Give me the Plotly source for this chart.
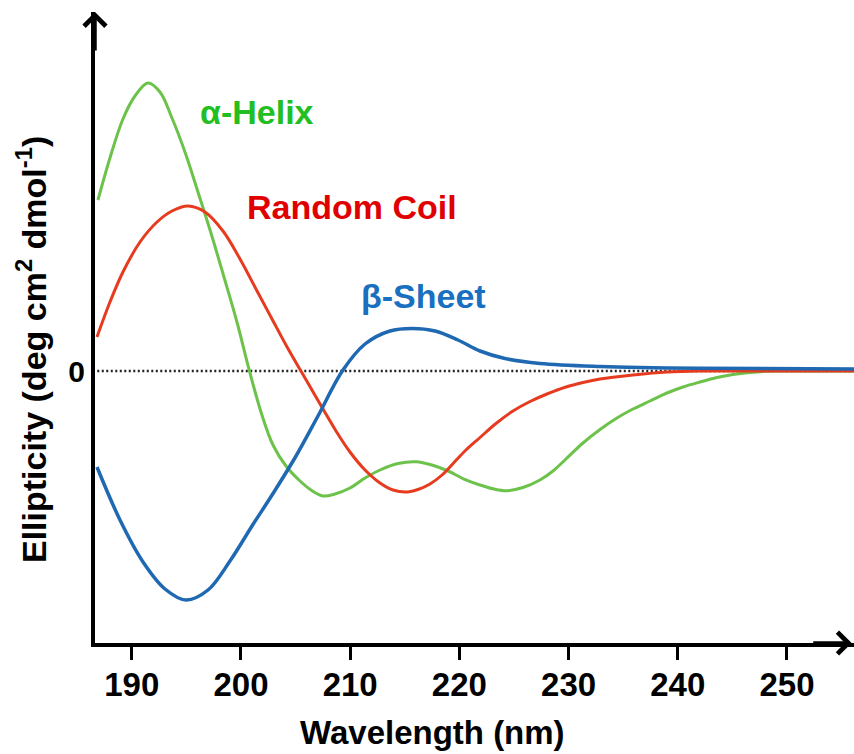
import plotly.graph_objects as go

# ---- data ----
helix_x = [186.90, 188.00, 189.19, 190.29, 191.48, 192.58, 193.68, 194.87, 196.06, 197.25,
           198.44, 199.63, 200.73, 201.83, 202.93, 204.12, 205.31, 206.41, 207.51, 208.61,
           209.98, 211.36, 212.73, 214.38, 216.03, 217.49, 218.96, 220.42, 221.89, 223.17,
           224.36, 225.82, 227.38, 228.57, 229.76, 231.32, 232.88, 234.43, 235.90, 237.45,
           239.01, 240.48, 242.03, 243.59, 245.05, 246.61, 248.17, 249.63, 256.14]
helix_y = [1.71, 2.13, 2.52, 2.75, 2.88, 2.79, 2.53, 2.19, 1.79, 1.38,
           0.94, 0.49, 0.02, -0.41, -0.74, -0.95, -1.09, -1.19, -1.25, -1.23,
           -1.17, -1.07, -0.99, -0.925, -0.907, -0.94, -1.00, -1.08, -1.14, -1.18,
           -1.197, -1.165, -1.09, -1.00, -0.88, -0.72, -0.585, -0.47, -0.38, -0.30,
           -0.22, -0.16, -0.11, -0.065, -0.035, -0.015, -0.003, 0.0, 0.0]

coil_x = [186.81, 188.00, 189.19, 190.75, 192.31, 193.68, 195.15, 196.70, 198.35, 199.91,
          201.47, 202.84, 204.22, 205.49, 206.50, 207.51, 208.70, 209.98, 211.36, 212.73,
          213.92, 215.20, 216.21, 217.31, 218.41, 219.51, 220.60, 221.89, 223.35, 224.91,
          226.47, 228.02, 229.76, 231.32, 232.88, 235.90, 239.01, 242.03, 246.61, 256.14]
coil_y = [0.34, 0.69, 0.99, 1.29, 1.49, 1.60, 1.65, 1.59, 1.40, 1.12,
          0.80, 0.52, 0.24, 0.0, -0.19, -0.38, -0.60, -0.81, -0.99, -1.12,
          -1.19, -1.21, -1.185, -1.13, -1.04, -0.915, -0.79, -0.665, -0.525, -0.40,
          -0.305, -0.23, -0.16, -0.115, -0.08, -0.04, -0.01, 0.0, 0.0, 0.0]

sheet_x = [186.81, 188.92, 191.03, 193.04, 194.96, 196.98, 198.99, 201.01, 203.02, 205.04,
           207.05, 209.34, 211.36, 213.64, 215.66, 217.77, 219.87, 221.89, 224.18, 227.38,
           232.88, 242.03, 256.14]
sheet_y = [-0.96, -1.49, -1.91, -2.18, -2.29, -2.19, -1.90, -1.55, -1.21, -0.85,
           -0.45, 0.01, 0.27, 0.40, 0.425, 0.40, 0.31, 0.20, 0.125, 0.075,
           0.045, 0.027, 0.02]

x_ticks = [190, 200, 210, 220, 230, 240, 250]
y_ticks = [0]
y_ticktext = ["0"]

x_range = [186.63, 256.14]
y_range = [-2.72, 3.59]

FONT = "Liberation Sans, Arial, sans-serif"

fig = go.Figure()
fig.add_trace(go.Scatter(x=helix_x, y=helix_y, mode="lines",
                         line=dict(color="#6CC24A", width=3, shape="spline", smoothing=1.0), name="α-Helix"))
fig.add_trace(go.Scatter(x=coil_x, y=coil_y, mode="lines",
                         line=dict(color="#E63B1F", width=3, shape="spline", smoothing=1.0), name="Random Coil"))
fig.add_trace(go.Scatter(x=sheet_x, y=sheet_y, mode="lines",
                         line=dict(color="#1F68B2", width=3.5, shape="spline", smoothing=1.0), name="β-Sheet"))

# dotted zero line
fig.add_shape(type="line", xref="paper", x0=0.003, x1=1, yref="y", y0=0, y1=0,
              line=dict(color="#222222", width=2.4, dash="2px,2.5px"), layer="below")

# axis arrows
fig.add_annotation(xref="paper", yref="paper", x=0, y=1, ax=0, ay=40, text="",
                   showarrow=True, arrowhead=4, arrowsize=1.2, arrowwidth=3.5, arrowcolor="black")
fig.add_annotation(xref="paper", yref="paper", x=0.997, y=0, ax=-40, ay=0, text="",
                   showarrow=True, arrowhead=4, arrowsize=1.2, arrowwidth=3.5, arrowcolor="black")

# curve labels
fig.add_annotation(x=201.51, y=2.59, text="α-Helix", showarrow=False,
                   font=dict(family=FONT, size=34, color="#22BE22", weight="bold"))
fig.add_annotation(x=210.16, y=1.64, text="Random Coil", showarrow=False,
                   font=dict(family=FONT, size=34, color="#E00000", weight="bold"))
fig.add_annotation(x=216.71, y=0.75, text="β-Sheet", showarrow=False,
                   font=dict(family=FONT, size=34, color="#1A70C0", weight="bold"))

# axis titles
fig.add_annotation(xref="paper", yref="paper", x=0.4453, y=-0.1426, xanchor="center", yanchor="middle",
                   text="Wavelength (nm)", showarrow=False,
                   font=dict(family=FONT, size=33, color="black", weight="bold"))
fig.add_annotation(xref="paper", yref="paper", x=-0.0843, y=0.4643, xanchor="center", yanchor="middle",
                   text="Ellipticity (deg cm<sup>2</sup> dmol<sup>-1</sup>)", textangle=-90,
                   showarrow=False, font=dict(family=FONT, size=34, color="black", weight="bold"))

fig.update_layout(
    width=854, height=754,
    margin=dict(l=95, r=0, t=12, b=111),
    paper_bgcolor="white", plot_bgcolor="white",
    showlegend=False,
    xaxis=dict(range=x_range, tickvals=x_ticks, ticks="outside", ticklen=13, tickwidth=3,
               tickcolor="black", showline=True, linewidth=4, linecolor="black",
               showgrid=False, zeroline=False, ticklabelstandoff=-4,
               tickfont=dict(family=FONT, size=33, color="black", weight="bold")),
    yaxis=dict(range=y_range, tickvals=y_ticks, ticktext=y_ticktext, ticks="",
               showline=True, linewidth=4, linecolor="black",
               showgrid=False, zeroline=False,
               tickfont=dict(family=FONT, size=30, color="black", weight="bold")),
)

fig.write_html("out.html")
